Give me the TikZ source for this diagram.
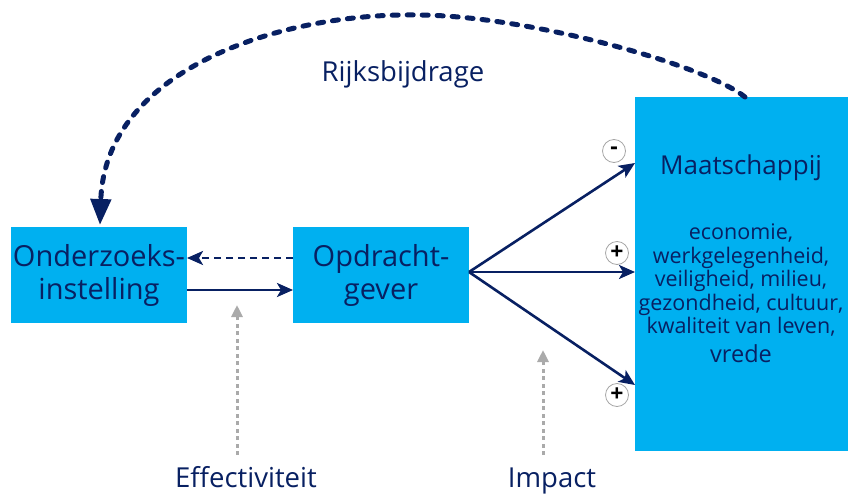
\documentclass[tikz,border=0pt]{standalone}
\usepackage{fontspec}
\setmainfont{Open Sans}
\usetikzlibrary{arrows.meta}
\definecolor{navy}{RGB}{8,32,98}
\definecolor{boxblue}{RGB}{0,176,240}
\definecolor{greyarr}{RGB}{170,170,170}
\tikzset{
  box/.style={fill=boxblue, draw=none, inner sep=0pt, text=navy},
  flow/.style={draw=navy, line width=2.6pt, -{Stealth[length=16pt,width=14pt,inset=4pt]}},
  dflow/.style={flow, dash pattern=on 7pt off 5pt},
  greyflow/.style={draw=greyarr, line width=3pt, dash pattern=on 4pt off 3.5pt, -{Triangle[length=12pt,width=11pt]}},
  sign/.style={circle, draw=gray!70, fill=white, line width=0.8pt, minimum size=23pt, inner sep=0pt, text=black, font=\fontsize{23}{23}\selectfont\bfseries},
  lbl/.style={text=navy, align=center, inner sep=0pt},
  plain/.style={text=navy, inner sep=0pt, anchor=base},
}
\begin{document}
\begin{tikzpicture}[x=1pt,y=-1pt]
\useasboundingbox (0,0) rectangle (848,493);
% boxes
\node[box, minimum width=176pt, minimum height=96pt, anchor=north west] (ond) at (11,227) {};
\node[box, minimum width=176pt, minimum height=96pt, anchor=north west] (opd) at (293,227) {};
\node[box, minimum width=213pt, minimum height=354pt, anchor=north west] (maa) at (635,97) {};
% box texts
\node[lbl, font=\fontsize{29}{33}\selectfont] (ondt) at (99,275) {Onderzoeks-\\instelling};
\node[lbl, font=\fontsize{29}{33}\selectfont] (opdt) at (381,275) {Opdracht-\\gever};
\node[lbl, font=\fontsize{26}{30}\selectfont] (maat) at (741,168) {Maatschappij};
\node[lbl, font=\fontsize{21.5}{23.5}\selectfont, anchor=north] (list) at (741,224) {economie,\\werkgelegenheid,\\veiligheid, milieu,\\gezondheid, cultuur,\\kwaliteit van leven,\\[5pt]{\fontsize{23.5}{27}\selectfont vrede}};
% coordinates
\coordinate (a1) at (187,290);
\coordinate (b1) at (293,290);
\coordinate (a2) at (293,258);
\coordinate (b2) at (187,258);
\coordinate (fan) at (469,272);
\coordinate (m1) at (635,163);
\coordinate (m2) at (635,272);
\coordinate (m3) at (635,385);
\coordinate (rs) at (745,97);
\coordinate (rp) at (420,15);
\coordinate (re) at (100,225);
\coordinate (g1s) at (237,455);
\coordinate (g1e) at (237,305);
\coordinate (g2s) at (543,455);
\coordinate (g2e) at (543,350);
% arrows
\draw[flow] (a1) -- (b1);
\draw[dflow] (a2) -- (b2);
\draw[flow] (fan) -- (m1);
\draw[flow] (fan) -- (m2);
\draw[flow] (fan) -- (m3);
\draw[draw=navy, line width=5pt, line cap=round, dash pattern=on 6pt off 9pt, -{Triangle[length=26pt,width=20pt,line cap=butt]}]
  (rs) .. controls (705,65) and (530,16) .. (rp)
       .. controls (280,12) and (105,70) .. (re);
\draw[greyflow] (g1s) -- (g1e);
\draw[greyflow] (g2s) -- (g2e);
% signs
\node[sign] (s1) at (614,151) {-};
\node[sign] (s2) at (617,253) {+};
\node[sign] (s3) at (617,395) {+};
% labels
\node[plain, font=\fontsize{27.5}{30}\selectfont] (rijk) at (403,81) {Rijksbijdrage};
\node[plain, font=\fontsize{27.5}{30}\selectfont] (eff) at (246,487) {Effectiviteit};
\node[plain, font=\fontsize{27.5}{30}\selectfont] (imp) at (552,487) {Impact};
\end{tikzpicture}
\end{document}
